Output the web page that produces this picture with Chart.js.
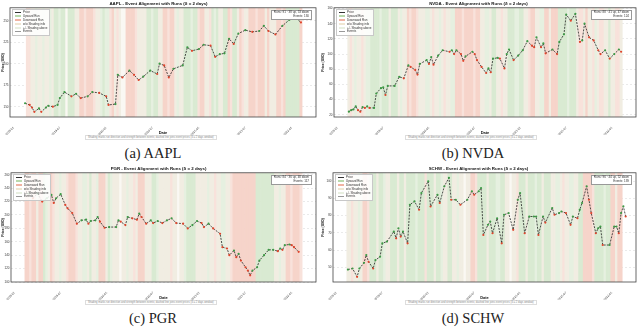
<!DOCTYPE html>
<html>
<head>
<meta charset="utf-8">
<script src="https://cdn.jsdelivr.net/npm/chart.js@4.4.0/dist/chart.umd.min.js"></script>
<style>
  body { margin: 0; background: #fff; width: 640px; height: 329px; overflow: hidden; font-family: "Liberation Sans", Arial, sans-serif; }
  .panel { position: absolute; width: 320px; height: 164px; }
  .panel canvas { position: absolute; left: 0; top: 0; }
  .legend { position: absolute; background: rgba(255,255,255,0.85); border: 0.5px solid #c8c8c8; font-size: 3px; line-height: 3.9px; padding: 0.5px 2px; color: #333; white-space: nowrap; }
  .legend span { display: inline-block; width: 6px; height: 2px; margin-right: 2px; vertical-align: middle; }
  .info { position: absolute; background: #fff; border: 0.5px solid #999; font-size: 3px; line-height: 3.6px; padding: 0.5px 2px; color: #333; text-align: right; white-space: nowrap; }
  .note { position: absolute; border: 0.5px solid #ddd; font-size: 2.6px; line-height: 3px; padding: 0 2px; color: #888; white-space: nowrap; }
  .cap { position: absolute; width: 200px; text-align: center; font-family: "Liberation Serif", "DejaVu Serif", serif; font-size: 14.5px; color: #222; }
</style>
</head>
<body>

<div class="panel" id="pa" style="left:0;top:0"><canvas id="ca" width="320" height="135"></canvas></div>
<div class="panel" id="pb" style="left:320px;top:0"><canvas id="cb" width="320" height="135"></canvas></div>
<div class="panel" id="pc" style="left:0;top:165px"><canvas id="cc" width="320" height="135"></canvas></div>
<div class="panel" id="pd" style="left:320px;top:165px"><canvas id="cd" width="320" height="135"></canvas></div>

<script>
"use strict";

// x axis: 132 trading windows, date label every 20th
var slotCount = 132;
var dateTicks = ["2019-01", "2019-07", "2020-01", "2020-07", "2021-01", "2021-07", "2022-01"];

// AAPL
var aaplSlots = [6, 8, 9, 10, 12, 13, 15, 16, 18, 20, 21, 23, 26, 28, 30, 33, 35, 38, 41, 42, 45, 46, 48, 51, 53, 55, 57, 60, 63, 64, 66, 68, 70, 74, 76, 78, 81, 83, 86, 88, 90, 92, 94, 96, 98, 101, 104, 107, 109, 111, 114, 117, 120, 122, 125];
var aaplPrice = [154, 152, 149, 144, 148, 144, 149, 151, 150, 152, 160, 167, 162, 165, 160, 162, 167, 166, 162, 152, 153, 187, 184, 192, 187, 181, 185, 192, 188, 200, 198, 184, 194, 198, 219, 215, 217, 222, 221, 208, 211, 212, 229, 223, 235, 239, 237, 238, 244, 238, 234, 244, 251, 255, 248];
var aaplTicks = [150, 175, 200, 225, 250];
var aaplRuns = [[".", 7], ["r", 2], ["b", 2], ["g", 1], ["b", 2], ["g", 1], ["b", 2], ["g", 1], ["b", 1],
  ["G", 2], ["g", 1], ["G", 2], ["w", 1], ["G", 3], ["b", 2], ["R", 2], ["r", 1], ["R", 3], ["r", 1], ["b", 2],
  ["g", 1], ["G", 1], ["g", 2], ["r", 1], ["R", 1], ["b", 1], ["r", 1], ["b", 1], ["w", 2], ["R", 4], ["r", 1],
  ["b", 4], ["G", 2], ["g", 1], ["G", 2], ["b", 2], ["R", 2], ["r", 1], ["R", 2], ["b", 1], ["g", 1], ["b", 2],
  ["G", 3], ["g", 1], ["G", 2], ["r", 1], ["R", 2], ["b", 2], ["r", 1], ["G", 1], ["g", 1], ["G", 1], ["b", 2], ["G", 2],
  ["R", 1], ["r", 1], ["G", 2], ["b", 1], ["R", 1], ["r", 1], ["b", 2], ["R", 3], ["r", 1], ["R", 3], ["b", 1], ["R", 1],
  ["b", 3], ["R", 2], ["r", 1], ["R", 1], ["G", 6], ["R", 1], [".", 6]];

// NVDA
var nvdaSlots = [6, 7, 8, 9, 10, 11, 12, 13, 14, 15, 17, 18, 20, 21, 22, 23, 26, 28, 30, 32, 33, 35, 36, 37, 40, 41, 42, 43, 45, 47, 50, 51, 52, 53, 55, 56, 57, 60, 61, 62, 64, 66, 67, 68, 69, 71, 72, 74, 75, 76, 78, 80, 82, 84, 86, 87, 88, 90, 91, 92, 95, 97, 98, 100, 101, 103, 105, 107, 108, 109, 111, 113, 115, 116, 118, 120, 122, 124, 125];
var nvdaPrice = [24, 26, 27, 31, 26, 24, 30, 29, 31, 29, 29, 48, 55, 56, 46, 58, 58, 70, 68, 85, 83, 79, 73, 87, 92, 87, 96, 86, 98, 105, 103, 105, 100, 105, 100, 91, 97, 103, 100, 92, 83, 75, 81, 76, 94, 95, 94, 81, 100, 106, 92, 98, 105, 117, 111, 109, 122, 109, 114, 101, 106, 100, 116, 126, 152, 144, 153, 116, 118, 140, 122, 118, 105, 100, 105, 94, 100, 106, 103];
var nvdaTicks = [20, 40, 60, 80, 100, 120, 140, 160];
var nvdaRuns = [[".", 6], ["b", 1], ["r", 1], ["b", 1], ["g", 1], ["b", 2], ["r", 1], ["b", 1], ["g", 2],
  ["G", 4], ["g", 1], ["G", 3], ["b", 1], ["G", 3], ["b", 1], ["g", 1], ["b", 2], ["R", 1], ["r", 1], ["R", 2], ["r", 1],
  ["b", 3], ["g", 2], ["b", 1], ["r", 1], ["b", 2], ["g", 1], ["b", 1], ["r", 1], ["b", 2], ["g", 2],
  ["R", 3], ["r", 1], ["R", 4], ["r", 1], ["R", 2], ["b", 2], ["g", 2], ["b", 1], ["G", 2], ["b", 2],
  ["r", 1], ["b", 2], ["G", 3], ["g", 2], ["G", 2], ["b", 2], ["r", 1], ["R", 2], ["b", 2], ["g", 2],
  ["R", 2], ["b", 1], ["R", 3], ["G", 4], ["g", 1], ["G", 3], ["b", 1], ["r", 2], ["b", 1], ["R", 1], ["b", 2],
  ["r", 1], ["g", 1], ["b", 1], ["r", 2], ["b", 2], ["G", 1], ["b", 2], ["r", 2], ["b", 1], [".", 6]];

// PGR
var pgrSlots = [7, 9, 11, 13, 15, 17, 18, 19, 21, 23, 24, 26, 28, 30, 32, 33, 34, 36, 37, 38, 40, 42, 45, 46, 47, 49, 50, 52, 54, 55, 56, 58, 60, 61, 63, 65, 67, 69, 71, 74, 76, 78, 80, 82, 83, 85, 87, 90, 91, 93, 94, 96, 97, 98, 99, 101, 102, 103, 104, 106, 107, 109, 111, 113, 115, 116, 117, 118, 120, 121, 122, 124];
var pgrPrice = [232, 225, 232, 220, 225, 230, 218, 225, 231, 215, 210, 203, 187, 192, 193, 187, 191, 192, 197, 190, 181, 182, 182, 192, 190, 185, 197, 195, 193, 202, 197, 187, 192, 188, 191, 188, 192, 195, 188, 187, 180, 185, 191, 188, 182, 187, 180, 172, 152, 150, 140, 147, 137, 142, 132, 122, 117, 110, 117, 122, 132, 140, 148, 148, 146, 150, 148, 155, 156, 155, 152, 145];
var pgrTicks = [100, 120, 140, 160, 180, 200, 220, 240, 260];
var pgrRuns = [[".", 6], ["R", 2], ["r", 1], ["R", 2], ["b", 1], ["R", 2],
  ["G", 1], ["g", 1], ["b", 1], ["R", 1], ["r", 1], ["b", 2], ["g", 1], ["b", 2], ["r", 1], ["R", 3], ["r", 1],
  ["b", 2], ["g", 2], ["b", 1], ["G", 1], ["b", 2], ["g", 1], ["R", 3], ["b", 1], ["G", 1], ["g", 1],
  ["b", 3], ["w", 1], ["b", 2], ["g", 1], ["b", 2], ["r", 1], ["b", 1], ["R", 3], ["b", 1],
  ["b", 2], ["G", 2], ["g", 1], ["b", 2], ["b", 3], ["r", 1], ["b", 2], ["w", 1], ["b", 2],
  ["g", 1], ["G", 4], ["b", 2], ["b", 3], ["g", 1], ["b", 2], ["r", 1], ["b", 2], ["g", 2], ["b", 2], ["r", 1],
  ["R", 10], ["G", 8], ["b", 2], ["g", 1], ["b", 2], ["R", 2], ["r", 1], ["R", 3], ["r", 1], [".", 6]];

// SCHW
var schwSlots = [6, 8, 10, 11, 13, 14, 15, 17, 18, 20, 21, 23, 26, 27, 28, 29, 30, 32, 33, 35, 37, 38, 41, 42, 45, 46, 48, 50, 51, 53, 55, 58, 60, 61, 63, 64, 65, 67, 68, 69, 71, 73, 74, 76, 78, 80, 81, 83, 85, 87, 88, 89, 91, 92, 95, 96, 98, 99, 101, 103, 104, 106, 107, 108, 110, 111, 112, 114, 115, 116, 117, 120, 122, 123, 124, 125, 126, 127];
var schwPrice = [48.8, 49.4, 44.6, 49.4, 52.7, 57.2, 53.3, 49.4, 54.3, 56.2, 64, 65, 70.8, 66.9, 72.7, 67.9, 70.8, 64, 86.3, 88.3, 83.4, 93.1, 99.9, 85.3, 92.1, 87.3, 97, 101.9, 89.2, 89.2, 86.3, 89.2, 94.1, 92.1, 94.1, 96, 68.8, 74.7, 76.6, 69.8, 78.5, 64, 80.5, 81.5, 71.8, 89.2, 93.1, 69.8, 79.5, 79.5, 79.5, 68.8, 79.5, 76, 84.4, 80.5, 81.5, 82.4, 81.5, 74.7, 79.5, 78.5, 83.4, 87.3, 97, 89.2, 81.5, 69.8, 72.7, 73.7, 63, 63, 73.7, 73.7, 69.8, 81.5, 85.4, 79.5];
var schwTicks = [50, 60, 70, 80, 90, 100];
var schwRuns = [[".", 6], ["b", 2], ["r", 1], ["b", 2], ["g", 1], ["b", 1], ["R", 2], ["r", 1],
  ["G", 3], ["b", 1], ["G", 2], ["g", 1], ["b", 2], ["G", 3], ["b", 1], ["G", 2],
  ["b", 1], ["G", 4], ["g", 1], ["G", 3], ["r", 1], ["G", 3], ["b", 1], ["G", 2], ["g", 1], ["b", 2], ["G", 2],
  ["b", 2], ["g", 1], ["b", 2], ["w", 1], ["b", 2], ["R", 2], ["r", 1],
  ["G", 4], ["b", 1], ["G", 3], ["g", 2], ["G", 2], ["b", 2], ["w", 1], ["b", 2], ["r", 1],
  ["G", 3], ["b", 1], ["G", 3], ["g", 1], ["G", 2], ["b", 1], ["G", 3],
  ["b", 2], ["g", 2], ["b", 1], ["r", 1], ["b", 2], ["g", 2], ["b", 2], ["G", 2],
  ["R", 4], ["r", 1], ["G", 4], ["g", 1], ["G", 2], ["R", 2], ["b", 1], ["R", 2], [".", 6]];

var runColors = {
    "G": "#d9ead2", "g": "#e6f0e0", "R": "#f6d4ca", "r": "#f8e2db",
    "b": "#f1ede2", "w": "#faf8f3", ".": "rgba(0,0,0,0)"
};

// spines round the plot area
var framePlugin = {
    id: "frame",
    afterDraw: function (chart) {
        var a = chart.chartArea, ctx = chart.ctx;
        ctx.save();
        ctx.strokeStyle = "#444";
        ctx.lineWidth = 0.8;
        ctx.strokeRect(a.left, a.top, a.right - a.left, a.bottom - a.top);
        ctx.restore();
    }
};

function expandRuns(runs) {
    var out = [];
    runs.forEach(function (r) {
        for (var i = 0; i < r[1]; i++) out.push(r[0]);
    });
    while (out.length < slotCount) out.push(".");
    return out.slice(0, slotCount);
}

function makePanel(canvasId, name, slots, prices, ticks, yMin, yMax, runs, leftW) {
    var labels = [], line = [], bars = [], barCol = [], ptCol = [];
    var codes = expandRuns(runs);
    for (var i = 0; i < slotCount; i++) {
        var k = (i - 1) % 20 === 0 ? (i - 1) / 20 : -1;
        labels.push(k >= 0 && k < dateTicks.length ? dateTicks[k] : "");
        line.push(null);
        ptCol.push("#2e8b3a");
        bars.push(codes[i] === "." ? null : 1);
        barCol.push(runColors[codes[i]]);
    }
    slots.forEach(function (s, j) {
        line[s] = prices[j];
        ptCol[s] = (j > 0 && prices[j] < prices[j - 1]) ? "#e0452c" : "#3d9a45";
    });

    return new Chart(document.getElementById(canvasId), {
        data: {
            labels: labels,
            datasets: [{
                type: "line",
                data: line,
                yAxisID: "y",
                borderColor: "#222",
                borderWidth: 0.8,
                borderDash: [2, 1.2],
                spanGaps: true,
                tension: 0,
                pointRadius: 1.1,
                pointBorderWidth: 0,
                pointBackgroundColor: ptCol,
                order: 1
            }, {
                type: "bar",
                data: bars,
                yAxisID: "yb",
                backgroundColor: barCol,
                borderWidth: 0,
                barPercentage: 1,
                categoryPercentage: 1,
                order: 2
            }]
        },
        options: {
            responsive: false,
            animation: false,
            layout: { padding: { left: 1, right: 4, top: 0, bottom: 0 } },
            plugins: {
                legend: { display: false },
                tooltip: { enabled: false },
                title: {
                    display: true,
                    text: name + " - Event Alignment with Runs (\u03b4 = 2 days)",
                    color: "#111",
                    font: { family: "Liberation Sans", size: 4.4, weight: "bold" },
                    padding: { top: 1, bottom: 1.5 }
                }
            },
            scales: {
                x: {
                    offset: true,
                    grid: { display: false },
                    border: { display: false },
                    ticks: {
                        autoSkip: false,
                        minRotation: 45,
                        maxRotation: 45,
                        padding: 1,
                        color: "#333",
                        font: { family: "Liberation Sans", size: 3 }
                    },
                    title: {
                        display: true,
                        text: "Date",
                        color: "#111",
                        padding: 0,
                        font: { family: "Liberation Sans", size: 4, weight: "bold" }
                    },
                    afterFit: function (scale) { scale.height = 18; }
                },
                y: {
                    min: yMin,
                    max: yMax,
                    grid: { color: "#d4d4d4", lineWidth: 0.5, drawTicks: false },
                    border: { display: false, dash: [2, 2] },
                    afterBuildTicks: function (scale) {
                        scale.ticks = ticks.map(function (v) { return { value: v }; });
                    },
                    ticks: {
                        padding: 1.5,
                        color: "#333",
                        font: { family: "Liberation Sans", size: 3 }
                    },
                    title: {
                        display: true,
                        text: "Price (USD)",
                        color: "#111",
                        padding: 0,
                        font: { family: "Liberation Sans", size: 3.4, weight: "bold" }
                    },
                    afterFit: function (scale) { scale.width = leftW; }
                },
                yb: { display: false, min: 0, max: 1 }
            }
        },
        plugins: [framePlugin]
    });
}

var charts = [
    makePanel("ca", "AAPL", aaplSlots, aaplPrice, aaplTicks, 138, 265, aaplRuns, 9),
    makePanel("cb", "NVDA", nvdaSlots, nvdaPrice, nvdaTicks, 17, 161, nvdaRuns, 13),
    makePanel("cc", "PGR", pgrSlots, pgrPrice, pgrTicks, 100, 263, pgrRuns, 10),
    makePanel("cd", "SCHW", schwSlots, schwPrice, schwTicks, 41.6, 104.8, schwRuns, 12)
];

// legend, run box, note and caption for each panel
var panelIds = ["pa", "pb", "pc", "pd"];
var captions = ["(a) AAPL", "(b) NVDA", "(c) PGR", "(d) SCHW"];
var runInfo = [["Runs: 91 \u00b7 38 up, 53 down", "Events: 130"], ["Runs: 88 \u00b7 41 up, 47 down", "Events: 124"],
               ["Runs: 84 \u00b7 36 up, 48 down", "Events: 117"], ["Runs: 96 \u00b7 44 up, 52 down", "Events: 139"]];
var legendItems = [["Price", "#333"], ["Upward Run", "#b9d9ac"], ["Downward Run", "#f0b3a3"],
                   ["w/o Shading info", "#efe6d2"], ["+/- Shading above", "#e8efe0"], ["Events", "#999"]];

panelIds.forEach(function (id, p) {
    var box = document.getElementById(id);
    var area = charts[p].chartArea;

    var lg = document.createElement("div");
    lg.className = "legend";
    lg.style.left = (area.left + 2) + "px";
    lg.style.top = (area.top + 1.5) + "px";
    lg.innerHTML = legendItems.map(function (it, i) {
        var h = (i === 0 || i === 5) ? "0.8px" : "2.5px";
        return '<div><span style="background:' + it[1] + ';height:' + h + '"></span>' + it[0] + '</div>';
    }).join("");
    box.appendChild(lg);

    var info = document.createElement("div");
    info.className = "info";
    info.style.right = (320 - area.right + 4) + "px";
    info.style.top = (area.top + 2) + "px";
    info.innerHTML = runInfo[p][0] + "<br>" + runInfo[p][1];
    box.appendChild(info);

    var note = document.createElement("div");
    note.className = "note";
    note.style.left = "85px";
    note.style.top = "135px";
    note.textContent = "Shading marks run direction and strength between events; dashed line joins event prices (\u03b4 = 2 days window)";
    box.appendChild(note);

    var cap = document.createElement("div");
    cap.className = "cap";
    cap.style.left = "53px";
    cap.style.top = "145px";
    cap.textContent = captions[p];
    box.appendChild(cap);
});
</script>
</body>
</html>
